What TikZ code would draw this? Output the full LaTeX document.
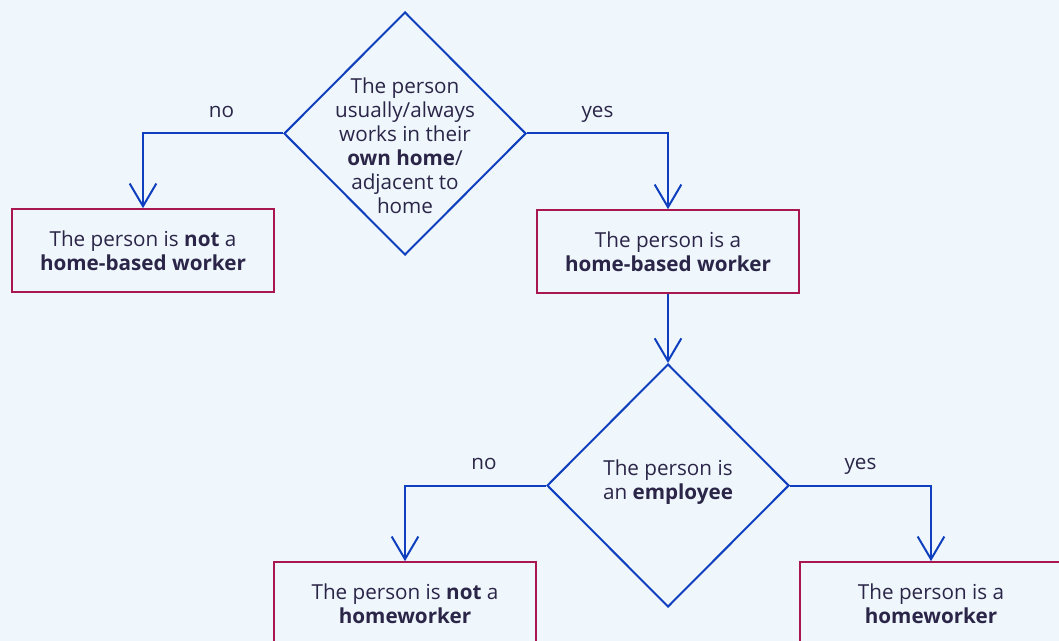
\documentclass[tikz,border=0pt]{standalone}
\usepackage{fontspec}
\setmainfont{Open Sans}
\usepackage{xcolor}
\usetikzlibrary{arrows.meta, shapes.geometric}

\definecolor{bgblue}{HTML}{EFF7FD}
\definecolor{lineblue}{HTML}{0F3FBE}
\definecolor{boxred}{HTML}{A8174F}
\definecolor{textdark}{HTML}{2B2548}

\begin{document}
\begin{tikzpicture}[
    x=0.75pt, y=-0.75pt,
    txt/.style={font=\fontsize{15.5}{18}\selectfont, text=textdark, align=center},
    decision/.style={diamond, draw=lineblue, line width=1.5pt, aspect=1, inner sep=0pt, minimum width=181.5pt, minimum height=182.25pt},
    outcome/.style={rectangle, draw=boxred, line width=1.5pt, minimum width=197pt, minimum height=62pt, txt},
    flow/.style={-{Straight Barb[length=17pt, width=20pt]}, line width=1.5pt, draw=lineblue},
    answer/.style={txt, anchor=base, yshift=12pt},
]

% Canvas
\path[use as bounding box, fill=bgblue] (0,0) rectangle (1059,641);
\clip (0,0) rectangle (1059,641);

% Decisions
\node[decision, label={[txt, name=q1text, yshift=-9pt]center:The person\\usually/always\\works in their\\\textbf{own home}/\\adjacent to\\home}] (q1) at (405,133.5) {};
\node[decision, label={[txt, name=q2text, yshift=2.25pt]center:The person is\\an \textbf{employee}}] (q2) at (668,485.5) {};

% Outcomes
\node[outcome] (notbased) at (143,250.5) {The person is \textbf{not} a\\\textbf{home-based worker}};
\node[outcome] (based) at (668,251.5) {The person is a\\\textbf{home-based worker}};
\node[outcome] (nothome) at (405,603.5) {The person is \textbf{not} a\\\textbf{homeworker}};
\node[outcome] (home) at (931,603.5) {The person is a\\\textbf{homeworker}};

% Arrows
\draw[flow] (q1.west) -| node[answer, pos=0.22] (no1) {no} (notbased.north);
\draw[flow] (q1.east) -| node[answer, pos=0.25] (yes1) {yes} (based.north);
\draw[flow] (based.south) -- (q2.north);
\draw[flow] (q2.west) -| node[answer, pos=0.22] (no2) {no} (nothome.north);
\draw[flow] (q2.east) -| node[answer, pos=0.25] (yes2) {yes} (home.north);

\end{tikzpicture}
\end{document}
